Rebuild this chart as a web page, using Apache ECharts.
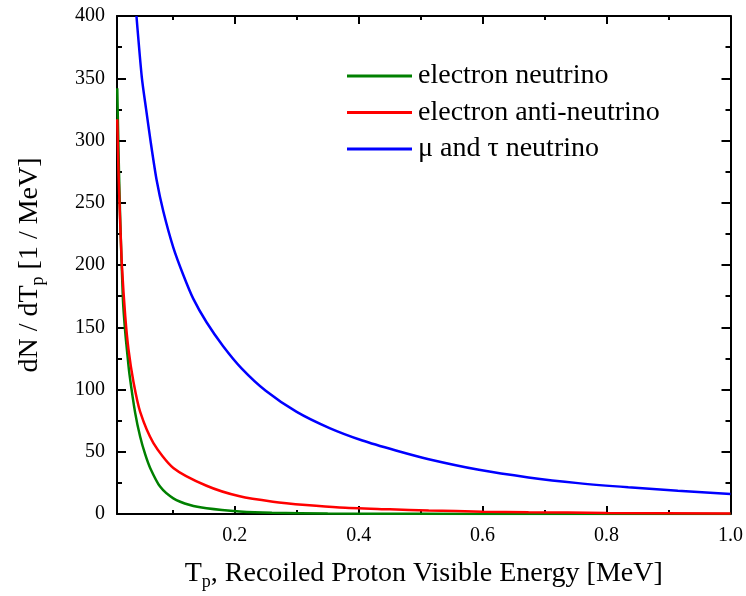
<!DOCTYPE html>
<html>
<head>
<meta charset="utf-8">
<script src="https://cdn.jsdelivr.net/npm/echarts@6/dist/echarts.min.js"></script>
<style>
html,body{margin:0;padding:0;background:#fff;}
#c{width:746px;height:596px;}
</style>
</head>
<body>
<div id="c"></div>
<script>
// ---- data ----
const seriesNames = ['electron neutrino', 'electron anti-neutrino', '\u03bc and \u03c4 neutrino'];

const electronNu = [
  [0.0104, 342], [0.0125, 290], [0.015, 240], [0.0196, 172], [0.0233, 146], [0.027, 127],
  [0.0302, 112], [0.0394, 81], [0.0474, 62], [0.0554, 48], [0.0635, 37], [0.0795, 22],
  [0.1009, 12.6], [0.1277, 7.2], [0.1545, 4.6], [0.208, 2.1], [0.26, 1.0], [0.35, 0.4],
  [0.5, 0.15], [0.7, 0.05], [1.0, 0.02]
];
const electronAntiNu = [
  [0.0104, 317], [0.0126, 271], [0.015, 236], [0.018, 199], [0.0233, 159], [0.0286, 132],
  [0.0366, 106], [0.0474, 82], [0.0688, 57], [0.1009, 37], [0.1545, 22.7],
  [0.208, 14.2], [0.2616, 9.9], [0.315, 7.2], [0.369, 5.2], [0.45, 3.8], [0.513, 2.8],
  [0.6, 1.9], [0.674, 1.4], [0.8, 0.9], [1.0, 0.5]
];
const muTauNu = [
  [0.0414, 400], [0.050, 351], [0.057, 325], [0.0646, 298], [0.074, 268], [0.0848, 243],
  [0.1009, 214], [0.117, 192], [0.133, 173], [0.1545, 154], [0.181, 135], [0.211, 117],
  [0.25, 99], [0.30, 82], [0.353, 69], [0.406, 59], [0.46, 51], [0.513, 44], [0.594, 35.5],
  [0.674, 29.4], [0.754, 24.8], [0.835, 21.4], [0.915, 18.7], [1.0, 16]
];

const xMajorTicks = [0.2, 0.4, 0.6, 0.8, 1.0];
const xMinorTicks = [0.1, 0.3, 0.5, 0.7, 0.9];
const xRange = [0.01, 1.0];
const yRange = [0, 400];
const yStep = 50;

// ---- chart ----
const FONT = '"Liberation Serif", "Times New Roman", serif';
const chart = echarts.init(document.getElementById('c'), null, {renderer: 'canvas'});

function xAxisDef(position, ticks, len, showLabel, showLine) {
  return {
    type: 'value', position: position, min: xRange[0], max: xRange[1],
    axisLine: {show: showLine, onZero: false, lineStyle: {color: '#000', width: 2}},
    axisTick: {show: true, inside: true, length: len, customValues: ticks, lineStyle: {color: '#000', width: 2}},
    axisLabel: showLabel ? {show: true, customValues: ticks, formatter: v => v.toFixed(1), color: '#000', fontFamily: FONT, fontSize: 20, margin: 12} : {show: false},
    splitLine: {show: false}
  };
}

const option = {
  animation: false,
  backgroundColor: '#fff',
  grid: {left: 117, right: 13, top: 16, bottom: 81, containLabel: false},
  legend: {
    show: true, orient: 'vertical', left: 347, top: 62, padding: 0,
    icon: 'rect', itemWidth: 65, itemHeight: 3, itemGap: 8.5,
    textStyle: {fontFamily: FONT, fontSize: 28, color: '#000', lineHeight: 28, padding: [0, 0, 0, 1]},
    data: seriesNames
  },
  xAxis: [
    Object.assign(xAxisDef('bottom', xMajorTicks, 8, true, true), {
      name: '{m|T}{s|p}{m|, Recoiled Proton Visible Energy [MeV]}',
      nameLocation: 'middle', nameGap: 43,
      nameTextStyle: {rich: {
        m: {fontFamily: FONT, fontSize: 28, color: '#000'},
        s: {fontFamily: FONT, fontSize: 18, color: '#000', verticalAlign: 'bottom', padding: [16, 0, 0, 0]}
      }}
    }),
    xAxisDef('bottom', xMinorTicks, 4, false, false),
    xAxisDef('top', xMajorTicks, 8, false, true),
    xAxisDef('top', xMinorTicks, 4, false, false)
  ],
  yAxis: [
    {
      type: 'value', position: 'left', min: yRange[0], max: yRange[1], interval: yStep,
      axisLine: {show: true, onZero: false, lineStyle: {color: '#000', width: 2}},
      axisTick: {show: true, inside: true, length: 9, lineStyle: {color: '#000', width: 2}},
      minorTick: {show: true, splitNumber: 2, length: 5, lineStyle: {color: '#000', width: 2}},
      axisLabel: {color: '#000', fontFamily: FONT, fontSize: 20, margin: 12},
      splitLine: {show: false},
      name: '{m|dN / dT}{s|p}{m| [1 / MeV]}',
      nameLocation: 'middle', nameGap: 70,
      nameTextStyle: {rich: {
        m: {fontFamily: FONT, fontSize: 28, color: '#000'},
        s: {fontFamily: FONT, fontSize: 18, color: '#000', verticalAlign: 'bottom', padding: [16, 0, 0, 0]}
      }}
    },
    {
      type: 'value', position: 'right', min: yRange[0], max: yRange[1], interval: yStep,
      axisLine: {show: true, onZero: false, lineStyle: {color: '#000', width: 2}},
      axisTick: {show: true, inside: true, length: 9, lineStyle: {color: '#000', width: 2}},
      minorTick: {show: true, splitNumber: 2, length: 5, lineStyle: {color: '#000', width: 2}},
      axisLabel: {show: false},
      splitLine: {show: false}
    }
  ],
  series: [
    {name: seriesNames[0], type: 'line', data: electronNu, color: '#008000'},
    {name: seriesNames[1], type: 'line', data: electronAntiNu, color: '#ff0000'},
    {name: seriesNames[2], type: 'line', data: muTauNu, color: '#0000ff'}
  ].map(s => Object.assign(s, {
    xAxisIndex: 0, yAxisIndex: 0, showSymbol: false, symbol: 'none',
    smooth: 0.25, clip: true,
    lineStyle: {width: 2.5, color: s.color}, itemStyle: {color: s.color}
  }))
};
chart.setOption(option);
</script>
</body>
</html>
